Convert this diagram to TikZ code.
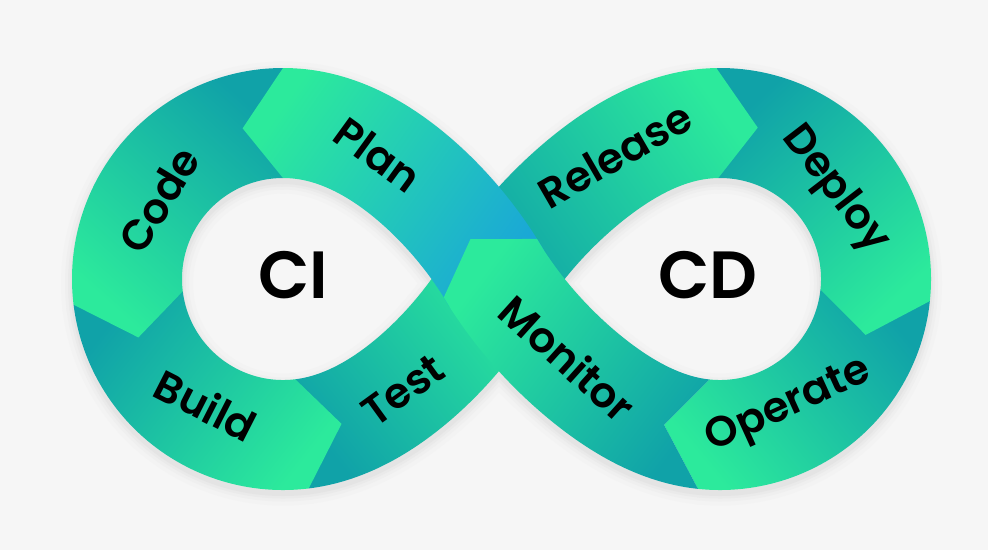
\documentclass[tikz,border=0pt]{standalone}
\usepackage{fontspec}
\IfFontExistsTF{Poppins SemiBold}{\newfontfamily\pop{Poppins SemiBold}}{\newfontfamily\pop{Poppins}[FakeBold=1]}
\definecolor{bgc}{RGB}{246,246,246}
\definecolor{cmint}{RGB}{44,234,156}
\definecolor{cteal}{RGB}{16,162,168}
\definecolor{cblue}{RGB}{26,168,214}
\definecolor{sh1}{RGB}{243,243,243}
\definecolor{sh2}{RGB}{239,239,239}
\definecolor{sh3}{RGB}{234,234,234}
\definecolor{sh4}{RGB}{228,228,228}
\tikzset{
  lbl/.style={font=\pop\fontsize{12}{14}\selectfont,inner sep=0pt,anchor=center},
  big/.style={font=\pop\fontsize{19}{19}\selectfont,inner sep=0pt,anchor=center},
  shd/.style={fill=#1,draw=#1,line join=round}
}
% segment outline: loop (L/R), start index, end index, head-tip index, end index minus one
\newcommand\segpath[5]{(#1o#2) \foreach \j in {#2,...,#3}{ -- (#1o\j)} -- (#1c#4)
  \foreach \j in {#3,#5,...,#2}{ -- (#1i\j)} -- cycle}
\newcommand\monpath{(Ro276) \foreach \j in {276,...,360}{ -- (Ro\j)} -- (Li3) -- (Lc12) -- (Lo3)
  \foreach \j in {360,359,...,276}{ -- (Ri\j)} -- (Rc291) -- cycle}
\newcommand\shadowpass[2]{%
  \begin{scope}[transform canvas={yshift=-0.045cm}]
    \path[shd=#2,line width=#1] \segpath{L}{277}{360}{360}{359};
    \path[shd=#2,line width=#1] \segpath{L}{187}{277}{292}{276};
    \path[shd=#2,line width=#1] \segpath{L}{90}{187}{202}{186};
    \path[shd=#2,line width=#1] \segpath{R}{186}{276}{291}{275};
    \path[shd=#2,line width=#1] \segpath{R}{89}{186}{201}{185};
    \path[shd=#2,line width=#1] \segpath{R}{0}{89}{104}{88};
    \path[shd=#2,line width=#1] \segpath{L}{0}{90}{105}{89};
    \path[shd=#2,line width=#1] \monpath;
  \end{scope}}
\begin{document}
\begin{tikzpicture}[x=1cm,y=1cm]
\useasboundingbox (0,0) rectangle (9.88,5.5);
\fill[bgc] (0,0) rectangle (9.88,5.5);
% centre line and band edges of both loops, one point per degree
\foreach \i in {0,...,360}{
  \pgfmathsetmacro\qa{ifthenelse(\i==0,0.01,ifthenelse(\i==360,359.99,\i))}
  \pgfmathsetmacro\qd{\qa-360*(\qa>180)}
  \pgfmathsetmacro\qv{max(0,1-abs(\qd)/80)}
  \pgfmathsetmacro\qs{ifthenelse(\qd>0,1,-1)}
  \pgfmathsetmacro\qc{cos(\qa)}
  \pgfmathsetmacro\qn{sin(\qa)}
  % left loop (CI)
  \pgfmathsetmacro\qr{1.56+0.58*\qv*\qv*\qv}
  \pgfmathsetmacro\qp{-3*0.58*\qv*\qv/1.39626*\qs}
  \pgfmathsetmacro\ql{veclen(\qp,\qr)}
  \pgfmathsetmacro\qnx{-(\qp*\qn+\qr*\qc)/\ql}
  \pgfmathsetmacro\qny{(\qp*\qc-\qr*\qn)/\ql}
  \coordinate (Lc\i) at ({2.83+\qr*\qc},{2.71+\qr*\qn});
  \coordinate (Lo\i) at ({2.83+\qr*\qc-0.55*(\qnx)},{2.71+\qr*\qn-0.55*(\qny)});
  \coordinate (Li\i) at ({2.83+\qr*\qc+0.55*(\qnx)},{2.71+\qr*\qn+0.55*(\qny)});
  % right loop (CD), mirrored
  \pgfmathsetmacro\qr{1.56+0.67*\qv*\qv*\qv}
  \pgfmathsetmacro\qp{-3*0.67*\qv*\qv/1.39626*\qs}
  \pgfmathsetmacro\ql{veclen(\qp,\qr)}
  \pgfmathsetmacro\qnx{-(\qp*\qn+\qr*\qc)/\ql}
  \pgfmathsetmacro\qny{(\qp*\qc-\qr*\qn)/\ql}
  \coordinate (Rc\i) at ({7.20-\qr*\qc},{2.71+\qr*\qn});
  \coordinate (Ro\i) at ({7.20-\qr*\qc+0.55*(\qnx)},{2.71+\qr*\qn-0.55*(\qny)});
  \coordinate (Ri\i) at ({7.20-\qr*\qc-0.55*(\qnx)},{2.71+\qr*\qn+0.55*(\qny)});
}
% soft drop shadow
\shadowpass{0.22cm}{sh1}
\shadowpass{0.14cm}{sh2}
\shadowpass{0.08cm}{sh3}
\shadowpass{0.03cm}{sh4}
% Test
\shade[top color=cmint,bottom color=cteal,shading angle=-51.5] \segpath{L}{277}{360}{360}{359};
% Build
\shade[top color=cmint,bottom color=cteal,shading angle=232] \segpath{L}{187}{277}{292}{276};
% Code
\shade[top color=cmint,bottom color=cteal,shading angle=138.5] \segpath{L}{90}{187}{202}{186};
% Operate
\shade[top color=cmint,bottom color=cteal,shading angle=129.5] \segpath{R}{186}{276}{291}{275};
% Deploy
\shade[top color=cmint,bottom color=cteal,shading angle=222.7] \segpath{R}{89}{186}{201}{185};
% Release
\shade[top color=cmint,bottom color=cteal,shading angle=-55] \segpath{R}{0}{89}{104}{88};
% Plan
\shade[top color=cmint,bottom color=cblue,shading angle=55] \segpath{L}{0}{90}{105}{89};
% Monitor
\shade[top color=cmint,bottom color=cteal,shading angle=53] \monpath;
% labels
\node[lbl,rotate=-36] (plan) at (3.78,3.95) {Plan};
\node[lbl,rotate=59] (code) at (1.59,3.50) {Code};
\node[lbl,rotate=-27] (build) at (2.06,1.45) {Build};
\node[lbl,rotate=36] (test) at (4.03,1.60) {Test};
\node[lbl,rotate=30] (release) at (6.15,3.95) {Release};
\node[lbl,rotate=-52.5] (deploy) at (8.35,3.60) {Deploy};
\node[lbl,rotate=24.5] (operate) at (7.89,1.43) {Operate};
\node[lbl,rotate=-42] (monitor) at (5.68,1.92) {Monitor};
\node[big] (ci) at (2.93,2.75) {CI};
\node[big] (cd) at (7.08,2.75) {CD};
\end{tikzpicture}
\end{document}
